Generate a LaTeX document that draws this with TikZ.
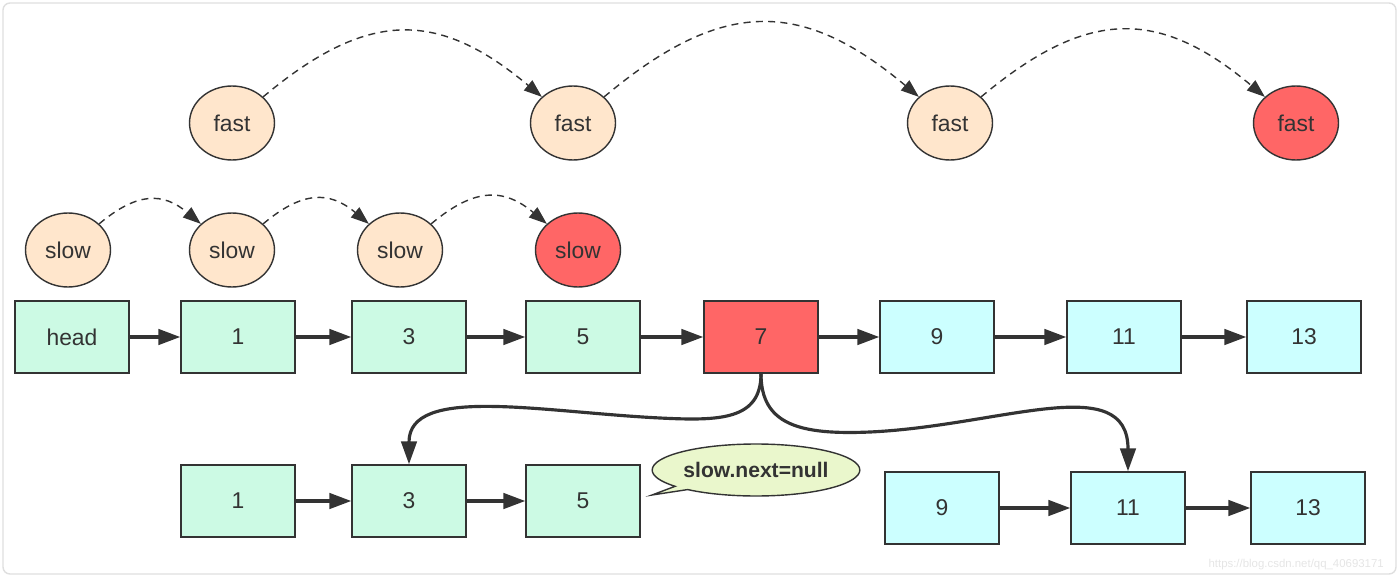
\documentclass[tikz,border=0pt]{standalone}
\usepackage{fontspec}
\setmainfont{Liberation Sans}
\usetikzlibrary{arrows.meta,positioning,shapes.geometric,shapes.callouts}
\definecolor{peach}{HTML}{FFE6CC}
\definecolor{hotred}{HTML}{FF6666}
\definecolor{mint}{HTML}{CCFAE4}
\definecolor{icecyan}{HTML}{CCFFFF}
\definecolor{notegreen}{HTML}{EAF7CC}
\definecolor{ink}{HTML}{333333}

\begin{document}
\begin{tikzpicture}[x=0.02cm, y=-0.02cm,
    every node/.style={font=\fontsize{13}{15}\selectfont, text=ink},
    ptr/.style={ellipse, draw=ink, line width=0.8pt, fill=peach, minimum width=1.7cm, minimum height=1.48cm},
    cell/.style={rectangle, draw=ink, line width=0.8pt, fill=mint, minimum width=2.28cm, minimum height=1.44cm},
    arrow/.style={-{Triangle[length=4.4mm, width=3.1mm]}, line width=1.8pt, draw=ink},
    split/.style={-{Triangle[length=4.6mm, width=3.1mm]}, line width=1.8pt, draw=ink},
    hop/.style={-{Triangle[length=3.6mm, width=2.6mm]}, dash pattern=on 4pt off 3pt, line width=0.8pt, draw=ink, out=40, in=140, looseness=1.25}]

\useasboundingbox (0,0) rectangle (1400,578);
\draw[gray!25, line width=0.8pt, rounded corners=4pt] (3,3) rectangle (1396,574);

% pointers
\node[ptr] (f1) at (232,123) {fast};
\node[ptr] (f2) at (573,123) {fast};
\node[ptr] (f3) at (950,123) {fast};
\node[ptr, fill=hotred] (f4) at (1296,123) {fast};
\node[ptr] (s1) at (68,250) {slow};
\node[ptr] (s2) at (232,250) {slow};
\node[ptr] (s3) at (400,250) {slow};
\node[ptr, fill=hotred] (s4) at (578,250) {slow};

% the list
\node[cell] (hd) at (72,337) {head};
\node[cell] (a1) at (238,337) {1};
\node[cell] (a3) at (409,337) {3};
\node[cell] (a5) at (583,337) {5};
\node[cell, fill=hotred] (a7) at (761,337) {7};
\node[cell, fill=icecyan] (a9) at (937,337) {9};
\node[cell, fill=icecyan] (a11) at (1124,337) {11};
\node[cell, fill=icecyan] (a13) at (1304,337) {13};

% the two halves
\node[cell] (b1) at (238,501) {1};
\node[cell] (b3) at (409,501) {3};
\node[cell] (b5) at (583,501) {5};
\node[cell, fill=icecyan] (c9) at (942,508) {9};
\node[cell, fill=icecyan] (c11) at (1128,508) {11};
\node[cell, fill=icecyan] (c13) at (1308,508) {13};

\coordinate (tip) at (652,495);
\node[ellipse callout, draw=ink, line width=0.8pt, fill=notegreen, inner sep=0.5pt, minimum width=4.1cm, minimum height=1.04cm,
    callout pointer arc=10, font=\bfseries\fontsize{12}{14}\selectfont, callout absolute pointer={(tip)}] (note) at (756,470) {slow.next=null};

\foreach \a/\b in {hd/a1, a1/a3, a3/a5, a5/a7, a7/a9, a9/a11, a11/a13, b1/b3, b3/b5, c9/c11, c11/c13}
    \draw[arrow] (\a) -- (\b);

\foreach \a/\b in {f1/f2, f2/f3, f3/f4, s1/s2, s2/s3, s3/s4}
    \draw[hop] (\a) to (\b);

\draw[split] (a7.south) .. controls (761,420) and (720,421) .. (660,418)
    .. controls (540,412) and (409,385) .. (b3.north);
\draw[split] (a7.south) .. controls (761,425) and (800,435) .. (870,432)
    .. controls (1000,426) and (1128,370) .. (c11.north);

\node[anchor=east, text=gray!20, font=\fontsize{6.5}{8}\selectfont] (mark) at (1390,565) {https://blog.csdn.net/qq\_40693171};
\end{tikzpicture}
\end{document}
